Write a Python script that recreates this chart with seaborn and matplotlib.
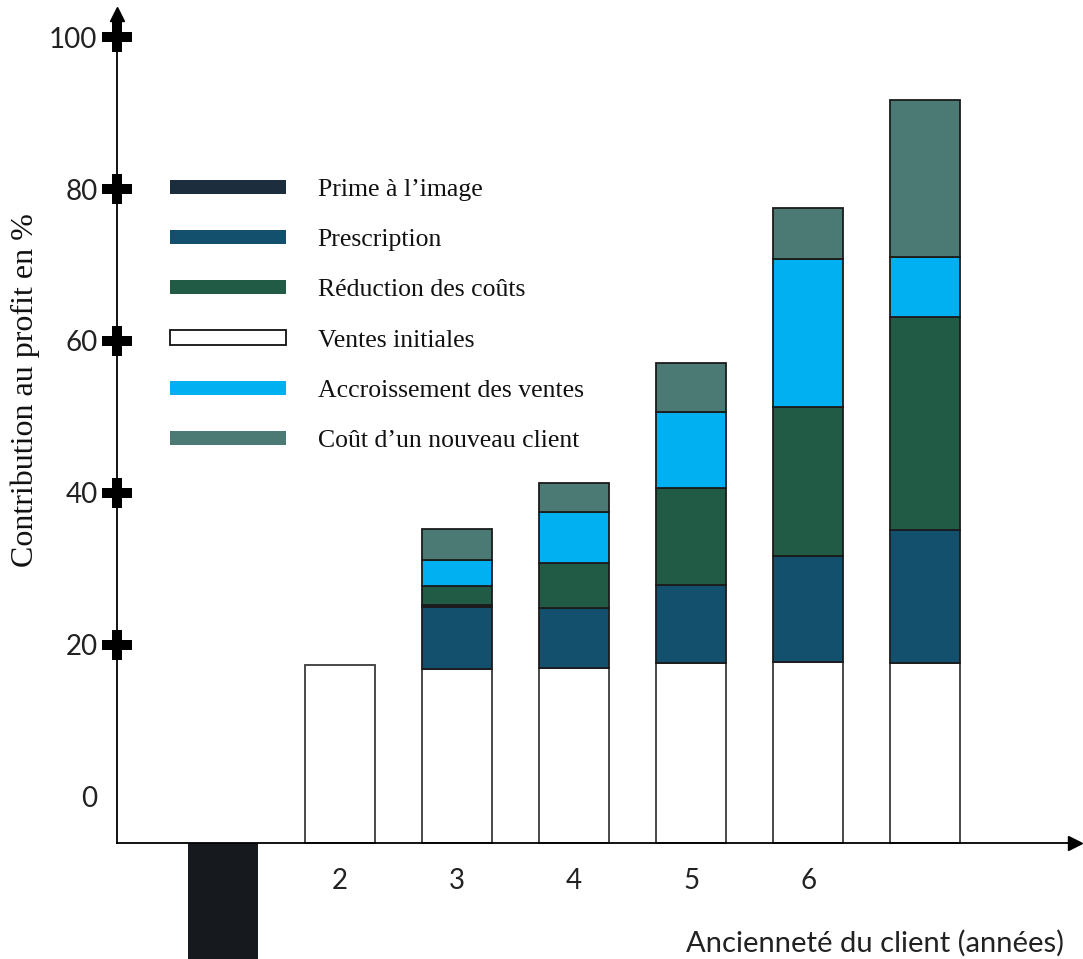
import matplotlib
matplotlib.use("Agg")
import matplotlib.pyplot as plt
from matplotlib.patches import Patch
import numpy as np
import seaborn as sns

# --- data: contribution to profit (%) by customer seniority (years) ---
years = [2, 3, 4, 5, 6, 7]
ventes_initiales = [17.4, 16.8, 17.0, 17.6, 17.8, 17.6]   # level read at top of the segment
prescription = [0.0, 8.2, 7.9, 10.3, 13.9, 17.5]
prime_image = [0.0, 0.3, 0.0, 0.0, 0.0, 0.0]
reduction_couts = [0.0, 2.5, 5.9, 12.8, 19.6, 28.1]
accroissement_ventes = [0.0, 3.4, 6.7, 10.0, 19.5, 7.9]
cout_nouveau_client = [0.0, 4.1, 3.8, 6.4, 6.7, 20.6]

annee_acquisition = [1]
cout_acquisition = [-20.0]

x_tick_years = [2, 3, 4, 5, 6]
y_ticks = [0, 20, 40, 60, 80, 100]

# --- layout ---
AXIS_Y = -6.05      # level where the horizontal axis is drawn
AXIS_X = 0.093      # position of the vertical axis
Y_TOP = 103.0
X_END = 8.28
EDGE = "#1b1b1b"

sns.set_style("white")
plt.rcParams["font.family"] = ["Lato", "DejaVu Sans"]

fig = plt.figure(figsize=(10.83, 9.59), dpi=100)
ax = fig.add_axes([0, 0, 1, 1])

layers = [
    ("Ventes initiales", ventes_initiales, "#ffffff", "#3a3a3a"),
    ("Prescription", prescription, "#13506e", EDGE),
    ("Prime à l’image", prime_image, "#1c2e3e", EDGE),
    ("Réduction des coûts", reduction_couts, "#215b45", EDGE),
    ("Accroissement des ventes", accroissement_ventes, "#00b0f0", EDGE),
    ("Coût d’un nouveau client", cout_nouveau_client, "#4a7a73", EDGE),
]

x_years = np.asarray(years)
bottom = np.full(len(years), AXIS_Y)
for i, (name, vals, fc, ec) in enumerate(layers):
    vals = np.asarray(vals, dtype=float)
    heights = vals - AXIS_Y if i == 0 else vals
    mask = heights > 0
    sns.barplot(x=x_years[mask], y=heights[mask], bottom=bottom[mask],
                native_scale=True, width=0.6, color=fc, edgecolor=ec,
                linewidth=1.3, saturation=1, errorbar=None, ax=ax)
    bottom = bottom + heights

# first year: acquisition cost below the axis
sns.barplot(x=annee_acquisition, y=cout_acquisition, bottom=[AXIS_Y] * len(annee_acquisition),
            native_scale=True, width=0.6, color="#16191d", edgecolor="none",
            saturation=1, errorbar=None, ax=ax)

ax.set_xlim(-0.907, 8.349)
ax.set_ylim(-21.32, 104.87)

# axes drawn as arrows crossing at (AXIS_X, AXIS_Y)
for s in ["top", "right"]:
    ax.spines[s].set_visible(False)
ax.spines["left"].set_position(("data", AXIS_X))
ax.spines["bottom"].set_position(("data", AXIS_Y))
ax.spines["left"].set_bounds(AXIS_Y, Y_TOP)
ax.spines["bottom"].set_bounds(AXIS_X, X_END)
for s in ["left", "bottom"]:
    ax.spines[s].set_color("black")
    ax.spines[s].set_linewidth(1.3)
ax.plot(AXIS_X, Y_TOP, marker="^", ms=10, color="black", clip_on=False)
ax.plot(X_END, AXIS_Y, marker=">", ms=10, color="black", clip_on=False)

# ticks
ax.set_yticks(y_ticks)
ax.set_yticklabels([str(v) for v in y_ticks])
ax.set_xticks(x_tick_years)
ax.set_xticklabels([str(v) for v in x_tick_years])
ax.tick_params(axis="y", length=0, pad=14, labelsize=20, labelcolor="#222222")
ax.tick_params(axis="x", length=0, pad=18, labelsize=20, labelcolor="#222222")
ax.plot([AXIS_X] * (len(y_ticks) - 1), y_ticks[1:], linestyle="none",
        marker="P", ms=22, color="black", mew=0, clip_on=False)

ax.set_xlabel("Ancienneté du client (années)", fontsize=21, color="#222222")
ax.xaxis.set_label_coords(0.808, 0.030)
ax.set_ylabel("Contribution au profit en %", fontsize=23, color="#111111",
              family=["Liberation Serif", "DejaVu Serif"])
ax.yaxis.set_label_coords(0.037, 0.593)

# legend
handles = []
for name, _, fc, ec in [layers[2], layers[1], layers[3], layers[0], layers[4], layers[5]]:
    if fc == "#ffffff":
        handles.append(Patch(facecolor=fc, edgecolor="#111111", linewidth=1.3, label=name))
    else:
        handles.append(Patch(facecolor=fc, edgecolor="none", label=name))
leg = ax.legend(handles=handles, loc="upper left", bbox_to_anchor=(0.157, 0.8135),
                frameon=False, borderpad=0, borderaxespad=0,
                prop={"family": ["Liberation Serif", "DejaVu Serif"], "size": 18.5},
                handlelength=4.5, handleheight=0.48, handletextpad=1.25,
                labelspacing=1.1)
for t in leg.get_texts():
    t.set_color("#111111")

ax.grid(False)
fig.savefig("out.png", dpi=100)
